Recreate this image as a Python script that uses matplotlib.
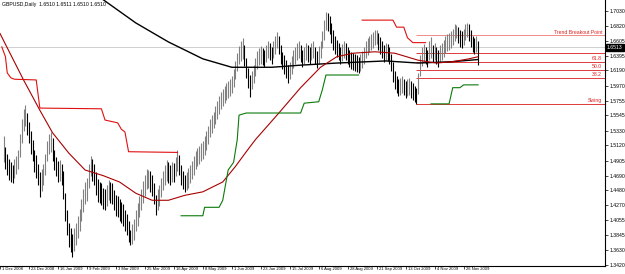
import matplotlib
matplotlib.use("Agg")
import matplotlib.pyplot as plt
import numpy as np

# GBPUSD daily, bar 0 = 1 Dec 2008, one bar per trading day
first_bar = 2
highs = [1.525, 1.510, 1.500, 1.492, 1.488, 1.484, 1.493, 1.497, 1.505, 1.528,
         1.549, 1.563, 1.570, 1.558, 1.545, 1.532, 1.520, 1.505, 1.498, 1.486,
         1.474, 1.478, 1.485, 1.500, 1.518, 1.528, 1.531, 1.522, 1.506, 1.496,
         1.490, 1.491, 1.486, 1.475, 1.445, 1.420, 1.402, 1.395, 1.386, 1.394,
         1.402, 1.412, 1.422, 1.436, 1.450, 1.460, 1.466, 1.485, 1.497, 1.492,
         1.486, 1.474, 1.464, 1.460, 1.458, 1.452, 1.450, 1.456, 1.463, 1.460,
         1.458, 1.449, 1.442, 1.440, 1.436, 1.431, 1.428, 1.420, 1.414, 1.404,
         1.392, 1.400, 1.408, 1.420, 1.430, 1.440, 1.450, 1.462, 1.470, 1.478,
         1.477, 1.476, 1.470, 1.458, 1.442, 1.450, 1.456, 1.466, 1.476, 1.484,
         1.491, 1.488, 1.484, 1.488, 1.487, 1.495, 1.505, 1.498, 1.484, 1.476,
         1.470, 1.474, 1.480, 1.484, 1.490, 1.497, 1.504, 1.508, 1.511, 1.515,
         1.518, 1.525, 1.532, 1.540, 1.550, 1.555, 1.560, 1.568, 1.575, 1.582,
         1.588, 1.592, 1.596, 1.600, 1.603, 1.606, 1.610, 1.621, 1.632, 1.643,
         1.653, 1.660, 1.665, 1.654, 1.636, 1.622, 1.612, 1.618, 1.626, 1.636,
         1.646, 1.650, 1.653, 1.650, 1.648, 1.655, 1.660, 1.657, 1.652, 1.661,
         1.668, 1.673, 1.668, 1.654, 1.645, 1.640, 1.633, 1.626, 1.631, 1.639,
         1.647, 1.652, 1.657, 1.660, 1.654, 1.648, 1.652, 1.657, 1.654, 1.652,
         1.657, 1.660, 1.652, 1.646, 1.653, 1.660, 1.675, 1.690, 1.702, 1.700,
         1.696, 1.686, 1.676, 1.668, 1.662, 1.657, 1.652, 1.656, 1.660, 1.657,
         1.652, 1.648, 1.645, 1.643, 1.642, 1.640, 1.638, 1.642, 1.646, 1.652,
         1.660, 1.664, 1.668, 1.670, 1.673, 1.676, 1.676, 1.672, 1.666, 1.660,
         1.654, 1.657, 1.656, 1.652, 1.642, 1.630, 1.618, 1.610, 1.606, 1.608,
         1.610, 1.607, 1.604, 1.606, 1.608, 1.604, 1.600, 1.596, 1.594, 1.615,
         1.640, 1.652, 1.656, 1.652, 1.648, 1.660, 1.666, 1.655, 1.657, 1.652,
         1.648, 1.654, 1.658, 1.662, 1.667, 1.670, 1.672, 1.675, 1.678, 1.684,
         1.683, 1.680, 1.676, 1.674, 1.678, 1.684, 1.686, 1.684, 1.676, 1.668,
         1.664, 1.667, 1.660]
lows = [1.488, 1.478, 1.470, 1.463, 1.460, 1.458, 1.466, 1.471, 1.478, 1.496,
        1.515, 1.532, 1.540, 1.527, 1.515, 1.500, 1.490, 1.474, 1.466, 1.455,
        1.439, 1.447, 1.455, 1.470, 1.490, 1.500, 1.503, 1.490, 1.477, 1.468,
        1.460, 1.462, 1.455, 1.436, 1.405, 1.385, 1.367, 1.360, 1.353, 1.362,
        1.370, 1.380, 1.390, 1.404, 1.418, 1.428, 1.433, 1.452, 1.468, 1.462,
        1.455, 1.442, 1.432, 1.430, 1.427, 1.422, 1.420, 1.426, 1.434, 1.430,
        1.428, 1.420, 1.412, 1.410, 1.405, 1.401, 1.398, 1.390, 1.384, 1.374,
        1.370, 1.372, 1.378, 1.390, 1.398, 1.410, 1.420, 1.430, 1.440, 1.450,
        1.452, 1.446, 1.440, 1.428, 1.413, 1.420, 1.426, 1.438, 1.448, 1.456,
        1.462, 1.458, 1.455, 1.460, 1.460, 1.468, 1.476, 1.470, 1.456, 1.450,
        1.446, 1.448, 1.452, 1.458, 1.464, 1.470, 1.478, 1.482, 1.486, 1.490,
        1.492, 1.499, 1.506, 1.514, 1.524, 1.530, 1.536, 1.542, 1.550, 1.557,
        1.564, 1.568, 1.572, 1.576, 1.579, 1.582, 1.586, 1.595, 1.606, 1.617,
        1.627, 1.632, 1.635, 1.625, 1.608, 1.593, 1.581, 1.592, 1.600, 1.610,
        1.621, 1.626, 1.628, 1.626, 1.624, 1.630, 1.636, 1.633, 1.628, 1.636,
        1.642, 1.650, 1.642, 1.628, 1.620, 1.614, 1.608, 1.601, 1.606, 1.614,
        1.622, 1.628, 1.633, 1.636, 1.630, 1.624, 1.628, 1.633, 1.630, 1.628,
        1.633, 1.636, 1.628, 1.622, 1.628, 1.636, 1.650, 1.662, 1.676, 1.674,
        1.670, 1.658, 1.648, 1.642, 1.638, 1.633, 1.628, 1.632, 1.636, 1.633,
        1.628, 1.624, 1.621, 1.619, 1.618, 1.616, 1.615, 1.618, 1.622, 1.628,
        1.636, 1.640, 1.644, 1.647, 1.650, 1.654, 1.656, 1.648, 1.642, 1.636,
        1.630, 1.633, 1.632, 1.628, 1.618, 1.602, 1.592, 1.586, 1.582, 1.584,
        1.586, 1.583, 1.580, 1.582, 1.584, 1.580, 1.576, 1.574, 1.571, 1.585,
        1.610, 1.625, 1.632, 1.628, 1.624, 1.633, 1.636, 1.630, 1.633, 1.628,
        1.624, 1.630, 1.634, 1.638, 1.643, 1.646, 1.648, 1.651, 1.654, 1.660,
        1.664, 1.658, 1.652, 1.650, 1.654, 1.662, 1.666, 1.660, 1.652, 1.645,
        1.642, 1.644, 1.626]

# indicator lines (bar index, price)
ma_slow_bars = [50, 57, 75, 93, 112, 128, 150, 166, 186, 213, 231, 250, 264]
ma_slow_vals = [1.733, 1.719, 1.686, 1.659, 1.635, 1.623, 1.623, 1.626, 1.629,
                1.632, 1.629, 1.631, 1.634]
ma_fast_bars = [0, 13, 22, 29, 38, 47, 57, 66, 75, 84, 93, 102, 112, 123, 130,
                136, 141, 154, 166, 177, 186, 195, 207, 218, 231, 241, 250, 259, 264]
ma_fast_vals = [1.671, 1.605, 1.562, 1.530, 1.501, 1.477, 1.469, 1.460, 1.444,
                1.434, 1.434, 1.441, 1.446, 1.460, 1.482, 1.503, 1.520, 1.558,
                1.594, 1.623, 1.638, 1.643, 1.645, 1.643, 1.633, 1.629, 1.631,
                1.635, 1.638]
upper_a_bars = [1, 3, 4, 6, 8, 20, 22, 56, 58, 65, 67, 69, 71, 98]
upper_a_vals = [1.652, 1.638, 1.615, 1.608, 1.606, 1.605, 1.565, 1.564, 1.548,
                1.544, 1.535, 1.531, 1.503, 1.502]
upper_b_bars = [200, 217, 219, 223, 225, 228, 235]
upper_b_vals = [1.690, 1.690, 1.680, 1.680, 1.665, 1.658, 1.658]
lower_a_bars = [100, 112, 113, 121, 123, 126, 129, 131, 132, 136, 166, 168, 176,
                178, 180, 198]
lower_a_vals = [1.412, 1.412, 1.424, 1.424, 1.434, 1.477, 1.488, 1.520, 1.555,
                1.558, 1.558, 1.572, 1.574, 1.591, 1.612, 1.612]
lower_b_bars = [238, 248, 250, 254, 256, 264]
lower_b_vals = [1.571, 1.571, 1.594, 1.594, 1.598, 1.598]

# fibonacci levels drawn from the swing low
level_start = 230
level_names = ["Trend Breakout Point", "", "61.8", "50.0", "38.2", "Swing"]
level_vals = [1.6683, 1.6432, 1.6311, 1.6197, 1.6082, 1.5710]
level_colors = ["#f08a8a", "#e03a3a", "#e03a3a", "#e03a3a", "#e03a3a", "#e03a3a"]

last_price = 1.6513
price_ticks = [1.7030, 1.6820, 1.6605, 1.6395, 1.6190, 1.5970, 1.5755, 1.5545,
               1.5330, 1.5120, 1.4905, 1.4690, 1.4480, 1.4270, 1.4055, 1.3845,
               1.3630, 1.3420]
date_bars = [0, 16, 32, 48, 64, 80, 96, 112, 128, 144, 160, 176, 192, 208, 224,
             240, 256]
date_labels = ["1 Dec 2008", "23 Dec 2008", "16 Jan 2009", "9 Feb 2009",
               "3 Mar 2009", "25 Mar 2009", "16 Apr 2009", "8 May 2009",
               "1 Jun 2009", "23 Jun 2009", "15 Jul 2009", "6 Aug 2009",
               "28 Aug 2009", "21 Sep 2009", "13 Oct 2009", "4 Nov 2009",
               "26 Nov 2009"]

plt.rcParams['font.family'] = ['Liberation Sans', 'DejaVu Sans']
fs = 3.7

fig = plt.figure(figsize=(6.25, 2.74), dpi=100)
ax = fig.add_axes([0, 8 / 274, 605 / 625, 266 / 274])
ax.set_xlim(1.71, 334.1)
ax.set_ylim(1.3406, 1.7186)

# current price line
ax.axhline(last_price, color="#c8c8c8", lw=0.6, zorder=1)

# bars
idx = np.arange(first_bar, first_bar + len(highs))
h = np.array(highs)
l = np.array(lows)
mid = (h + l) / 2
up = np.r_[True, mid[1:] >= mid[:-1]]
cols = np.where(up, "#808080", "#000000")
ax.vlines(idx, l, h, colors=cols, lw=0.8, zorder=3)

ax.plot(ma_slow_bars, ma_slow_vals, color="black", lw=1.0, zorder=4)
ax.plot(ma_fast_bars, ma_fast_vals, color="#a80000", lw=0.8, zorder=4)
ax.plot(upper_a_bars, upper_a_vals, color="#e01010", lw=0.8, zorder=4)
ax.plot(upper_b_bars, upper_b_vals, color="#e01010", lw=0.8, zorder=4)
ax.plot(lower_a_bars, lower_a_vals, color="#0b7a0b", lw=0.8, zorder=5)
ax.plot(lower_b_bars, lower_b_vals, color="#0b7a0b", lw=0.8, zorder=5)

xr = ax.get_xlim()[1]
for name, v, c in zip(level_names, level_vals, level_colors):
    ax.hlines(v, level_start, xr, colors=c, lw=0.7, zorder=2)
    if name:
        ax.annotate(name, xy=(1, v), xycoords=("axes fraction", "data"),
                    xytext=(-2, 0.3), textcoords="offset points",
                    ha="right", va="bottom", fontsize=fs, color="#e02020")

# axes look like a trading terminal
for s in ["left", "top"]:
    ax.spines[s].set_visible(False)
ax.spines["right"].set_linewidth(0.8)
ax.spines["bottom"].set_linewidth(0.8)
ax.yaxis.tick_right()
ax.set_yticks(price_ticks)
ax.set_yticklabels([f"{t:.4f}" for t in price_ticks])
ax.tick_params(axis="y", length=2, width=0.5, pad=1.5, labelsize=fs)
ax.set_xticks(date_bars)
ax.set_xticklabels([])
ax.tick_params(axis="x", length=2, width=0.5)
for b, lab in zip(date_bars, date_labels):
    ax.annotate(lab, xy=(b, 0), xycoords=("data", "axes fraction"),
                xytext=(1.5, -1), textcoords="offset points",
                ha="left", va="top", fontsize=3.0, annotation_clip=False)

ax.annotate(f"{last_price:.4f}", xy=(1, last_price),
            xycoords=("axes fraction", "data"), xytext=(1.5, 0),
            textcoords="offset points", ha="left", va="center",
            fontsize=fs, color="white",
            bbox=dict(boxstyle="square,pad=0.15", fc="black", ec="black"))

fig.text(2 / 625, 1 - 2 / 274, "GBPUSD,Daily  1.6510 1.6511 1.6510 1.6510",
         ha="left", va="top", fontsize=fs)

fig.savefig("out.png", dpi=100)
